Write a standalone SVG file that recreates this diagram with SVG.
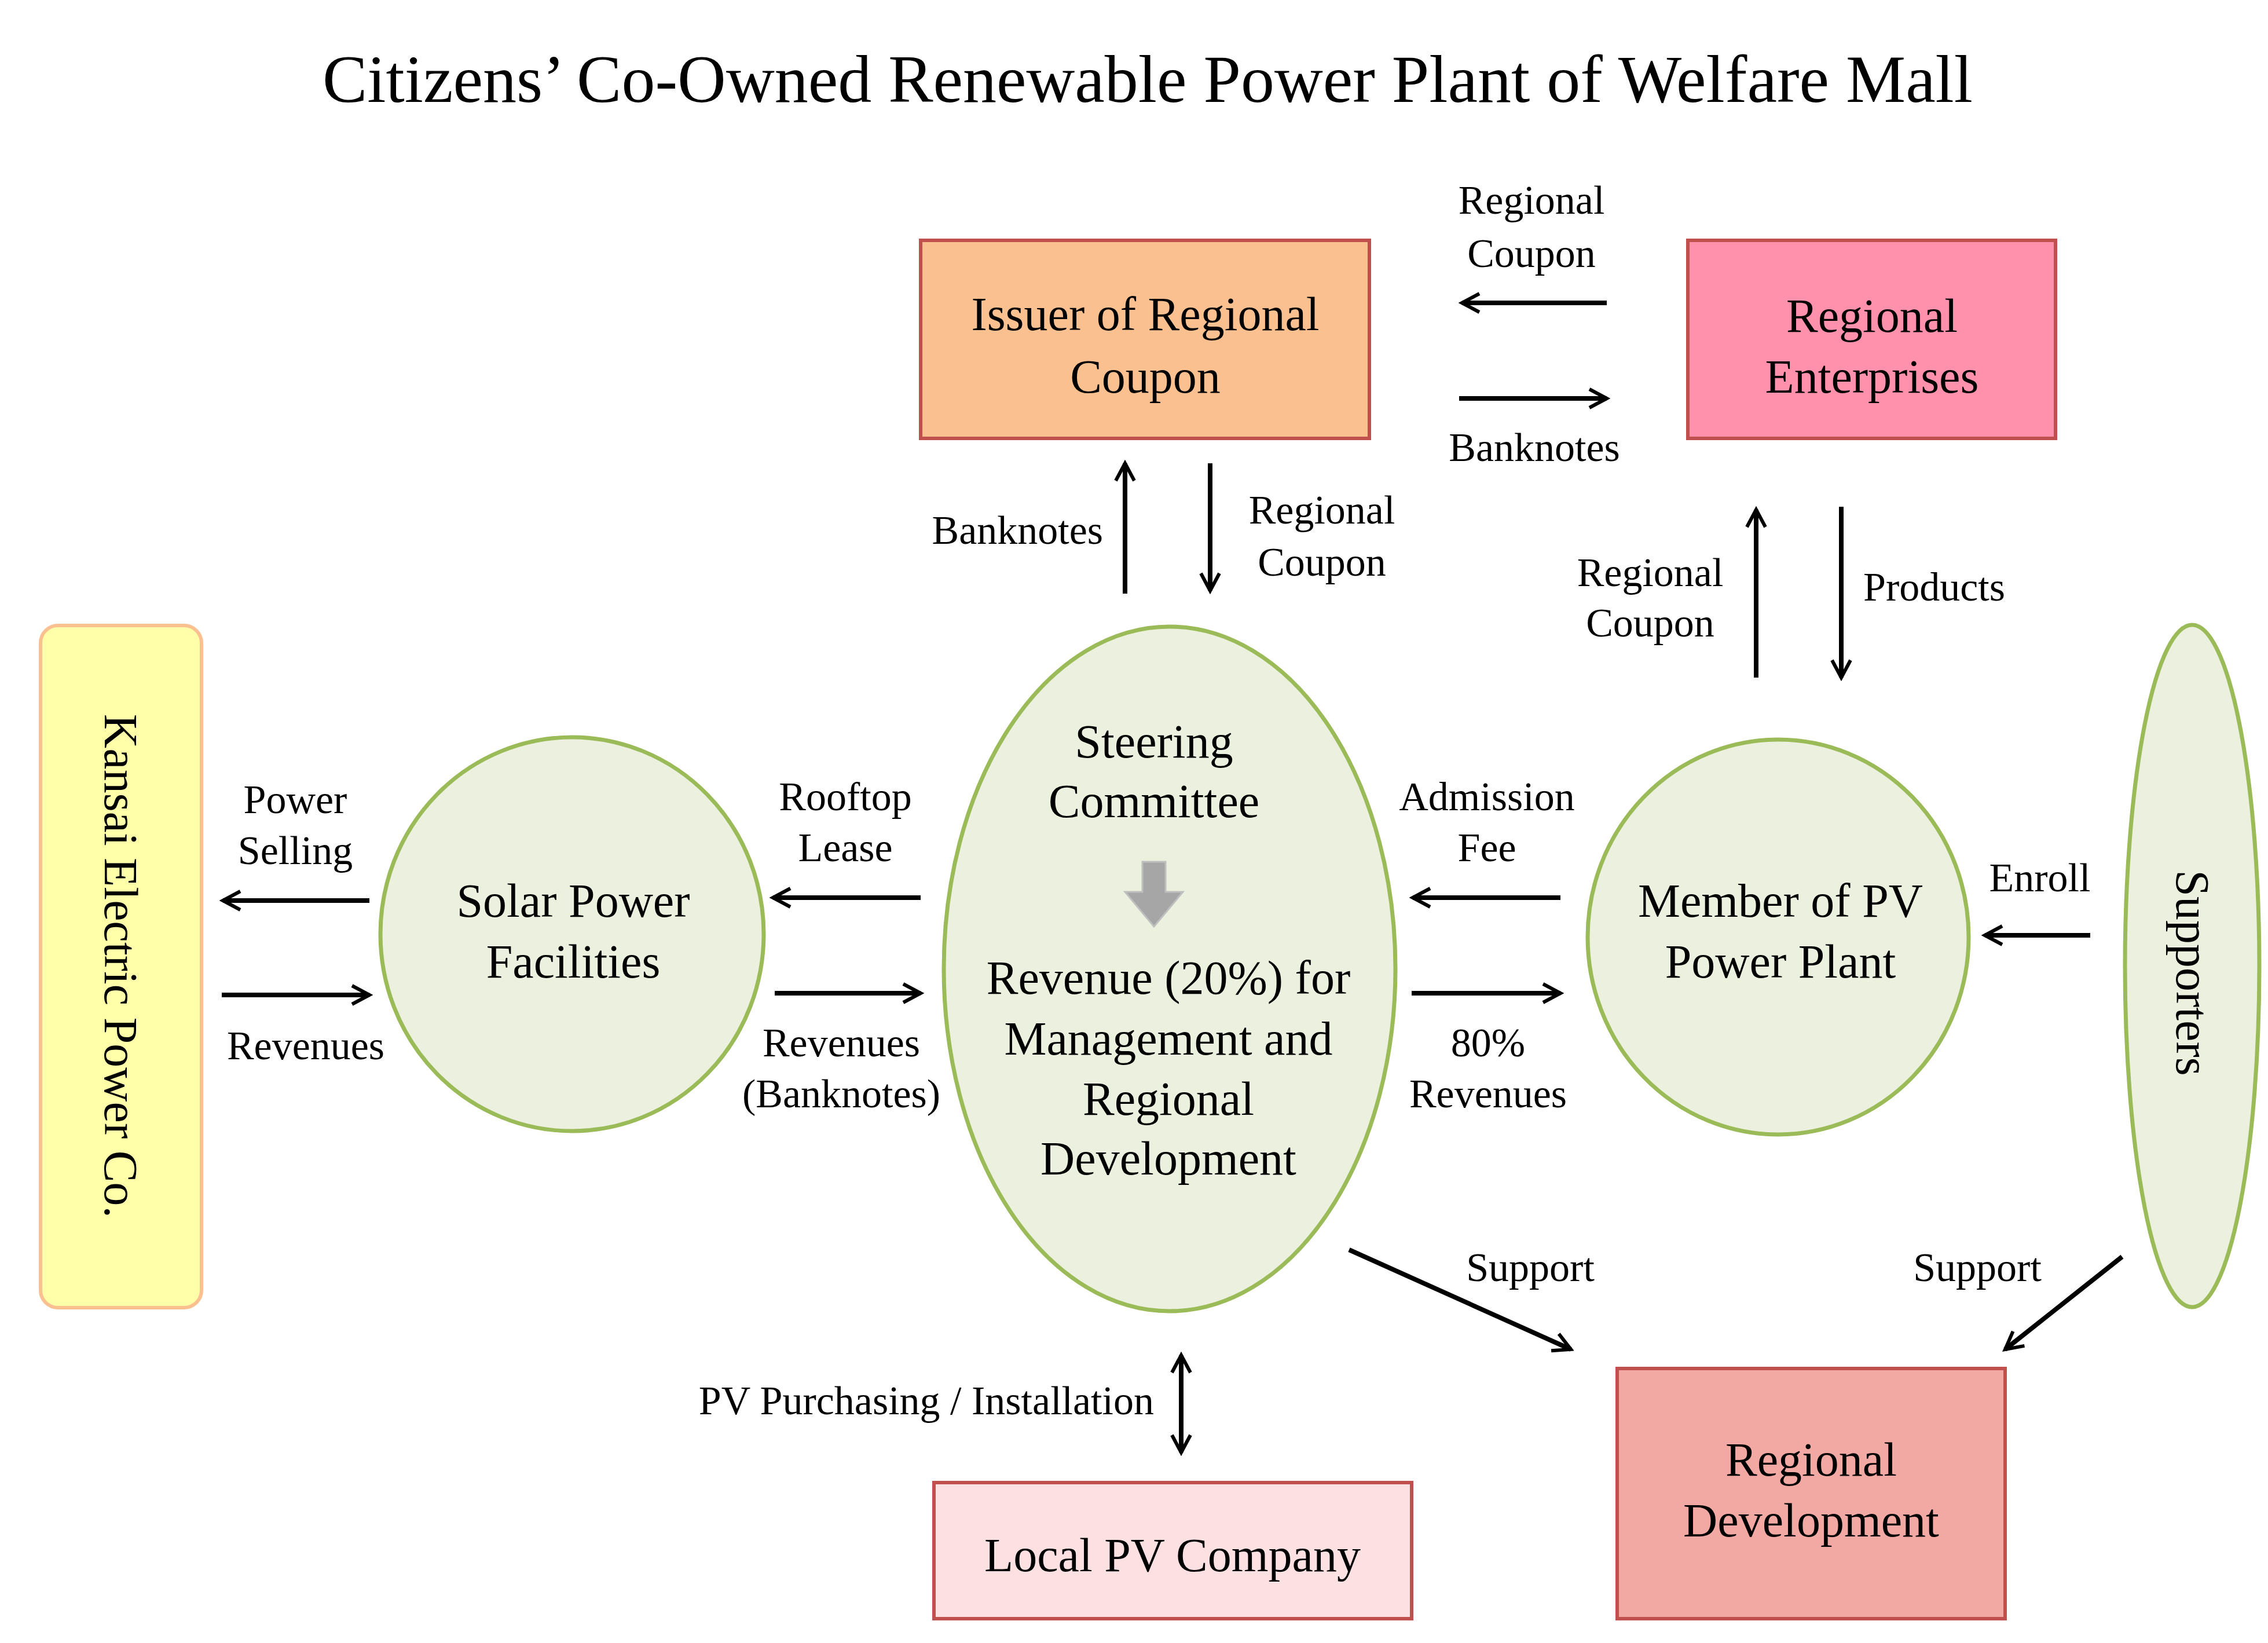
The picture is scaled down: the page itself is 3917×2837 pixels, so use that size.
<svg xmlns="http://www.w3.org/2000/svg" width="3917" height="2837" viewBox="0 0 3917 2837">
<style>
text{font-family:"Liberation Serif","Times New Roman",serif;fill:#000;text-anchor:middle;dominant-baseline:central}
.n{font-size:82px}
.l{font-size:70px}
.t{font-size:116px}
.c{fill:#ebf1de;stroke:#9bbb59;stroke-width:7}
.b{stroke:#c0504d;stroke-width:6}
.a{stroke:#000;stroke-width:8;fill:none;marker-end:url(#h)}
</style>
<defs>
<marker id="h" viewBox="0 0 20 20" refX="17" refY="10" markerWidth="40" markerHeight="40" markerUnits="userSpaceOnUse" orient="auto-start-reverse">
<path d="M2,2 L17,10 L2,18" fill="none" stroke="#000" stroke-width="3"/>
</marker>
</defs>
<rect width="3917" height="2837" fill="#fff"/>
<text class="t" x="1982" y="137">Citizens’ Co-Owned Renewable Power Plant of Welfare Mall</text>

<g id="issuer"><rect class="b" x="1590" y="415" width="775" height="342" fill="#fac090"/>
<text class="n" x="1978" y="542">Issuer of Regional</text><text class="n" x="1978" y="650">Coupon</text></g>
<g id="enterprises"><rect class="b" x="2915" y="415" width="635" height="342" fill="#ff91ad"/>
<text class="n" x="3233" y="545">Regional</text><text class="n" x="3233" y="650">Enterprises</text></g>
<g id="kansai"><rect x="70" y="1080" width="278" height="1178" rx="30" fill="#ffffaa" stroke="#fac090" stroke-width="6"/>
<text class="n" transform="translate(208,1668) rotate(90)">Kansai Electric Power Co.</text></g>
<g id="solar"><ellipse class="c" cx="988" cy="1613" rx="331" ry="340"/>
<text class="n" x="990" y="1555">Solar Power</text><text class="n" x="990" y="1660">Facilities</text></g>
<g id="steering"><ellipse class="c" cx="2020" cy="1673" rx="390" ry="591"/>
<text class="n" x="1993" y="1280">Steering</text><text class="n" x="1993" y="1383">Committee</text>
<path d="M1973,1488 H2013 V1540 H2043 L1993,1600 L1943,1540 H1973 Z" fill="#a6a6a6" stroke="#bfbfbf" stroke-width="3"/>
<text class="n" x="2018" y="1688">Revenue (20%) for</text><text class="n" x="2018" y="1793">Management and</text>
<text class="n" x="2018" y="1897">Regional</text><text class="n" x="2018" y="2000">Development</text></g>
<g id="member"><ellipse class="c" cx="3071" cy="1618" rx="329" ry="341"/>
<text class="n" x="3075" y="1555">Member of PV</text><text class="n" x="3075" y="1660">Power Plant</text></g>
<g id="supporters"><ellipse class="c" cx="3786" cy="1668" rx="116" ry="589"/>
<text class="n" transform="translate(3786,1680) rotate(90)">Supporters</text></g>
<g id="localpv"><rect class="b" x="1613" y="2560" width="825" height="235" fill="#fde0e1"/>
<text class="n" x="2025" y="2685">Local PV Company</text></g>
<g id="regdev"><rect class="b" x="2793" y="2363" width="670" height="432" fill="#f2a9a4"/>
<text class="n" x="3128" y="2520">Regional</text><text class="n" x="3128" y="2625">Development</text></g>

<g id="connectors">
<path class="a" d="M2775,523 H2525"/><path class="a" d="M2520,688 H2775"/>
<path class="a" d="M1943,1025 V800"/><path class="a" d="M2090,800 V1020"/>
<path class="a" d="M3033,1170 V880"/><path class="a" d="M3180,875 V1170"/>
<path class="a" d="M638,1555 H385"/><path class="a" d="M383,1718 H638"/>
<path class="a" d="M1590,1550 H1335"/><path class="a" d="M1338,1715 H1590"/>
<path class="a" d="M2695,1550 H2440"/><path class="a" d="M2438,1715 H2695"/>
<path class="a" d="M3610,1615 H3428"/>
<path class="a" d="M2330,2158 L2713,2330"/><path class="a" d="M3665,2170 L3463,2330"/>
<path class="a" d="M2040,2340 V2508" marker-start="url(#h)"/>
</g>
<g id="labels" class="l">
<text class="l" x="2645" y="345">Regional</text><text class="l" x="2645" y="437">Coupon</text>
<text class="l" x="2650" y="772">Banknotes</text>
<text class="l" x="1905" y="915" style="text-anchor:end">Banknotes</text>
<text class="l" x="2283" y="880">Regional</text><text class="l" x="2283" y="970">Coupon</text>
<text class="l" x="2850" y="988">Regional</text><text class="l" x="2850" y="1075">Coupon</text>
<text class="l" x="3218" y="1013" style="text-anchor:start">Products</text>
<text class="l" x="510" y="1380">Power</text><text class="l" x="510" y="1468">Selling</text>
<text class="l" x="528" y="1805">Revenues</text>
<text class="l" x="1460" y="1375">Rooftop</text><text class="l" x="1460" y="1463">Lease</text>
<text class="l" x="1453" y="1800">Revenues</text><text class="l" x="1453" y="1888">(Banknotes)</text>
<text class="l" x="2568" y="1375">Admission</text><text class="l" x="2568" y="1463">Fee</text>
<text class="l" x="2570" y="1800">80%</text><text class="l" x="2570" y="1888">Revenues</text>
<text class="l" x="3523" y="1515">Enroll</text>
<text class="l" x="2643" y="2188">Support</text><text class="l" x="3415" y="2188">Support</text>
<text class="l" x="1993" y="2418" style="text-anchor:end">PV Purchasing / Installation</text>
</g>
</svg>
